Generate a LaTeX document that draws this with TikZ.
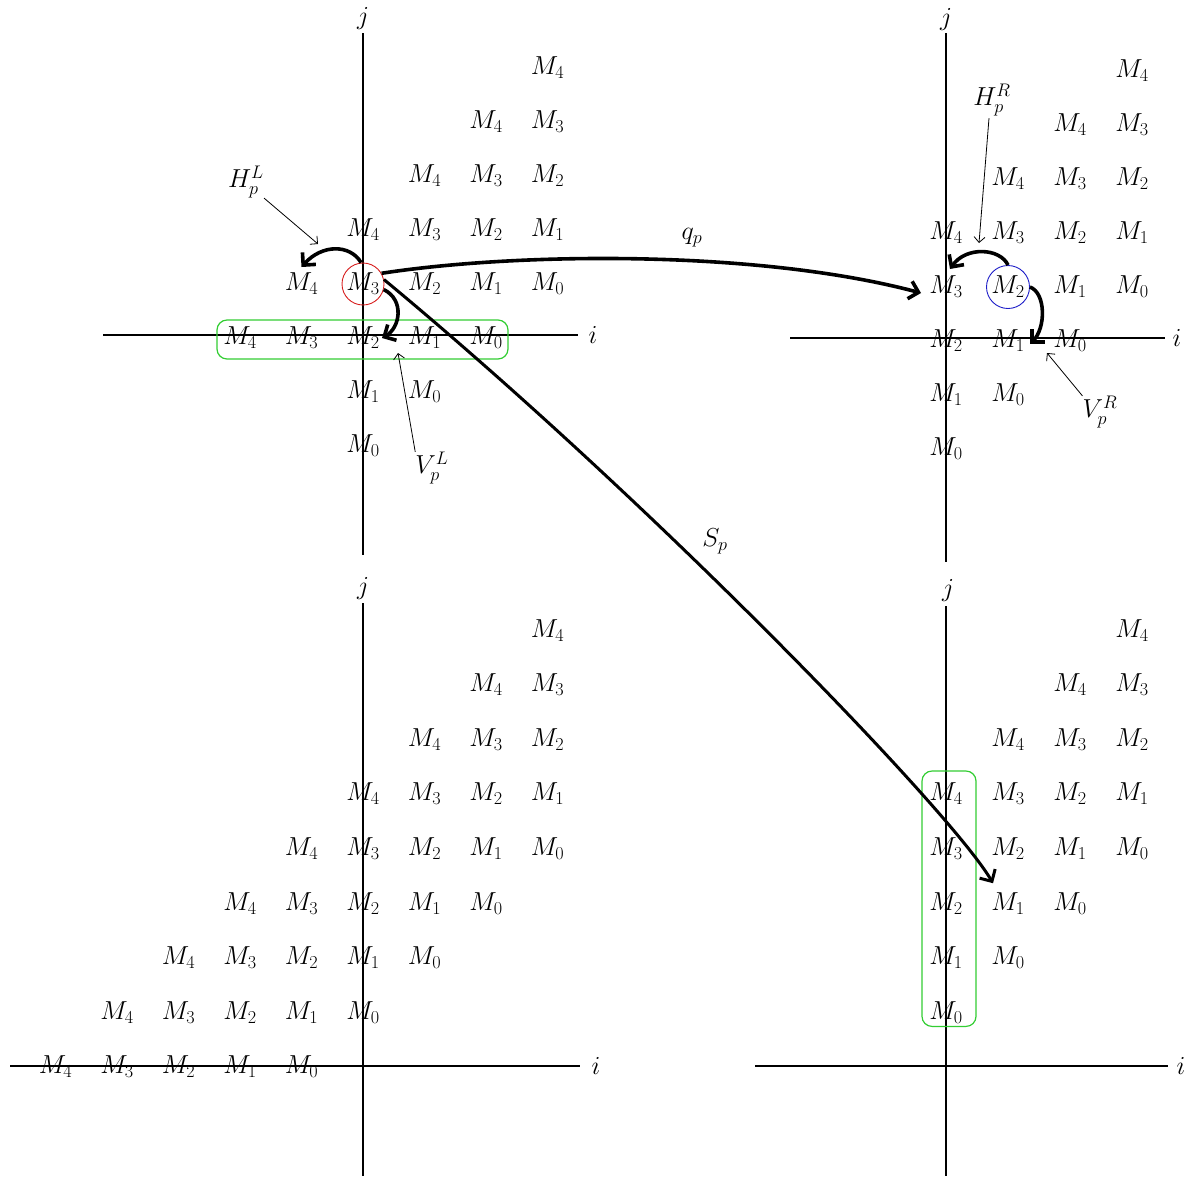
\RequirePackage{fix-cm}
\documentclass[tikz,border=0pt]{standalone}
\usetikzlibrary{arrows.meta,calc}
\definecolor{boxgreen}{RGB}{50,205,50}
\definecolor{circred}{RGB}{215,30,30}
\definecolor{circblue}{RGB}{30,30,200}
\tikzset{
  mlab/.style={inner sep=0pt, font=\fontsize{26}{30}\selectfont},
  axisline/.style={line width=1.2pt},
  thickarr/.style={line width=3.6pt, -{Straight Barb[length=9pt,width=18pt]}},
  ptr/.style={line width=0.8pt, -{Straight Barb[length=5.5pt,width=11pt]}},
  gbox/.style={draw=boxgreen, line width=1.2pt, rounded corners=10pt},
}
\begin{document}
\begin{tikzpicture}[x=1pt,y=1pt]
\useasboundingbox (0,0) rectangle (1190,-1176);

% ---------- axes ----------
\draw[axisline] (363,-33) -- (363,-555);
\draw[axisline] (103,-335) -- (578,-335);
\node[mlab] (jTL) at (363,-19) {$j$};
\node[mlab] (iTL) at (593,-335) {$i$};

\draw[axisline] (946,-33) -- (946,-562);
\draw[axisline] (790,-338) -- (1165,-338);
\node[mlab] (jTR) at (946,-20) {$j$};
\node[mlab] (iTR) at (1177,-338) {$i$};

\draw[axisline] (363,-603) -- (363,-1176);
\draw[axisline] (10,-1066) -- (580,-1066);
\node[mlab] (jBL) at (363,-588) {$j$};
\node[mlab] (iBL) at (596,-1066) {$i$};

\draw[axisline] (946,-606) -- (946,-1176);
\draw[axisline] (755,-1066) -- (1168,-1066);
\node[mlab] (jBR) at (948,-590) {$j$};
\node[mlab] (iBR) at (1181,-1066) {$i$};

% ---------- grids ----------
% top left
\foreach \row in {-2,...,5}{
  \foreach \kk in {0,...,4}{
    \pgfmathtruncatemacro{\col}{\row+2-\kk}
    \pgfmathtruncatemacro{\ok}{and(\col<4, or(\row>-1,\col>-1))}
    \ifnum\ok=1
      \node[mlab] (TL\col x\row) at ({363+\col*61.5},{-338+\row*54}) {$M_{\kk}$};
    \fi
  }}
% top right
\foreach \row in {-2,...,5}{
  \foreach \kk in {0,...,4}{
    \pgfmathtruncatemacro{\col}{\row+2-\kk}
    \pgfmathtruncatemacro{\ok}{and(\col<4, \col>-1)}
    \ifnum\ok=1
      \node[mlab] (TR\col x\row) at ({946+\col*62},{-341+\row*54}) {$M_{\kk}$};
    \fi
  }}
% bottom left
\foreach \row in {0,...,8}{
  \foreach \kk in {0,...,4}{
    \pgfmathtruncatemacro{\col}{\row-1-\kk}
    \pgfmathtruncatemacro{\ok}{\col<4}
    \ifnum\ok=1
      \node[mlab] (BL\col x\row) at ({363+\col*61.5},{-1067+\row*54.6}) {$M_{\kk}$};
    \fi
  }}
% bottom right
\foreach \row in {1,...,8}{
  \foreach \kk in {0,...,4}{
    \pgfmathtruncatemacro{\col}{\row-1-\kk}
    \pgfmathtruncatemacro{\ok}{and(\col<4, \col>-1)}
    \ifnum\ok=1
      \node[mlab] (BR\col x\row) at ({946+\col*62},{-1067+\row*54.6}) {$M_{\kk}$};
    \fi
  }}

% ---------- highlights ----------
\node[draw=circred, line width=0.9pt, circle, minimum size=42pt, inner sep=0pt] (circL) at (TL0x1) {};
\node[draw=circblue, line width=0.9pt, circle, minimum size=43pt, inner sep=0pt] (circR) at (TR1x1) {};
\draw[gbox] ($(TL-2x0)+(-23,18)$) rectangle ($(TL2x0)+(22,-21)$);
\draw[gbox] ($(BR0x5)+(-24,23)$) rectangle ($(BR0x1)+(30,-14)$);

% ---------- labels ----------
\node[mlab] (hL) at (246,-182) {$H_p^L$};
\node[mlab] (vL) at (432,-468) {$V_p^L$};
\node[mlab] (hR) at (992,-100) {$H_p^R$};
\node[mlab] (vR) at (1100,-412) {$V_p^R$};
\node[mlab] (qp) at (692,-238) {$q_p$};
\node[mlab] (sp) at (715,-541) {$S_p$};

\coordinate (hLtip) at (318,-244);
\coordinate (vLtip) at (398,-353);
\coordinate (hRtip) at (979,-243);
\coordinate (vRtip) at (1047,-353);

\draw[ptr] (hL.south east) -- (hLtip);
\draw[ptr] (vL.north west) -- (vLtip);
\draw[ptr] ($(hR.south)+(-3,-2)$) -- (hRtip);
\draw[ptr] (vR.north west) -- (vRtip);

% ---------- thick arrows ----------
\draw[thickarr] (circL.95) .. controls (350,-244) and (322,-244) .. ($(TL-1x1)+(0,17)$);
\draw[thickarr] (circL.-15) .. controls (405,-300) and (400,-328) .. ($(TL0x0)+(19,0)$);
\draw[thickarr] (circL.30) .. controls (520,-252) and (760,-250) .. ($(TR0x1)+(-25,-6)$);
\draw[thickarr, line width=3pt] (circL.12) .. controls (650,-500) and (950,-810) .. ($(BR1x3)+(-15,20)$);
\draw[thickarr] (circR.north) .. controls (1000,-248) and (966,-246) .. ($(TR0x1)+(4,18)$);
\draw[thickarr] (circR.east) .. controls (1046,-293) and (1046,-328) .. ($(TR1x0)+(22,-3)$);
\end{tikzpicture}
\end{document}
